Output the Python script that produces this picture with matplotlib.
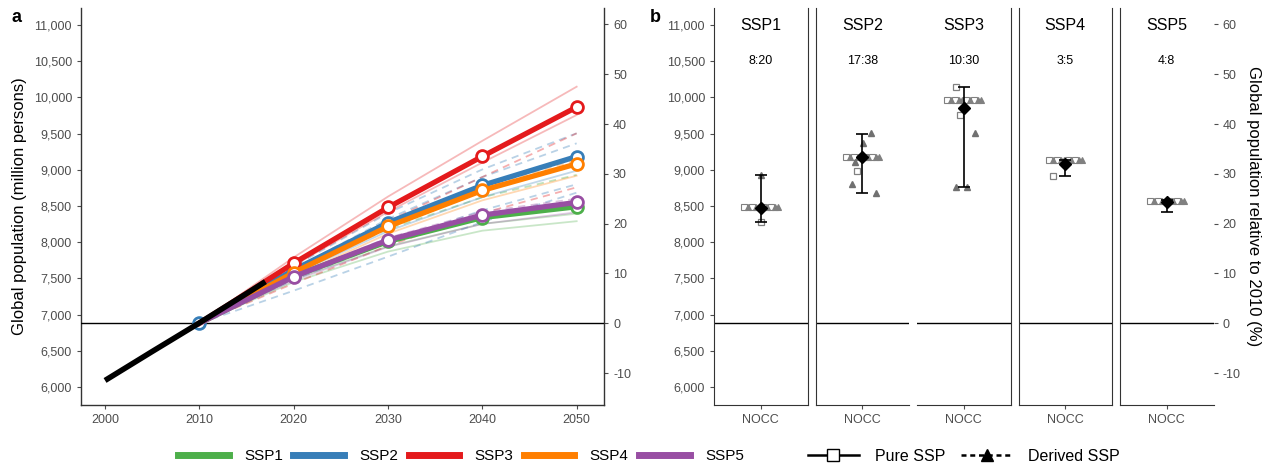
import matplotlib
matplotlib.use("Agg")
import matplotlib.pyplot as plt
from matplotlib.lines import Line2D
import numpy as np

plt.rcParams['font.family'] = ['Liberation Sans', 'DejaVu Sans']
plt.rcParams['axes.unicode_minus'] = False

# ---------------- data ----------------
ssp_names = ["SSP1", "SSP2", "SSP3", "SSP4", "SSP5"]
ssp_colors = ["#4DAF4A", "#377EB8", "#E41A1C", "#FF7F00", "#984EA3"]
base_2010 = 6880

years = [2010, 2020, 2030, 2040, 2050]
ssp1_main = [6880, 7530, 8010, 8340, 8490]
ssp2_main = [6880, 7617, 8270, 8785, 9183]
ssp3_main = [6880, 7710, 8480, 9185, 9866]
ssp4_main = [6880, 7580, 8217, 8715, 9082]
ssp5_main = [6880, 7524, 8029, 8374, 8550]

hist_years = [2000, 2005, 2010, 2015, 2017]
hist_pop = [6090, 6490, 6885, 7290, 7455]

# individual model trajectories
ssp1_pure = [[6880, 7450, 7870, 8159, 8290], [6880, 7492, 7943, 8253, 8394]]
ssp1_derived = [[6880, 7600, 8180, 8620, 8930]]
ssp2_pure = [[6880, 7555, 8153, 8623, 8988]]
ssp2_derived = [[6880, 7667, 8402, 9005, 9504], [6880, 7626, 8322, 8900, 9366],
                [6880, 7480, 8000, 8440, 8800], [6880, 7330, 7800, 8280, 8684]]
ssp3_pure = [[6880, 7790, 8630, 9400, 10148], [6880, 7680, 8420, 9100, 9757]]
ssp3_derived = [[6880, 7610, 8290, 8900, 9504], [6880, 7430, 7950, 8400, 8758]]
ssp4_pure = [[6880, 7528, 8117, 8578, 8918]]
ssp4_derived = [[6880, 7597, 8249, 8758, 9135]]
ssp5_pure = [[6880, 7472, 7935, 8252, 8413]]
ssp5_derived = [[6880, 7540, 8060, 8420, 8600]]

# panel b (2050, NOCC)
b_counts = ["8:20", "17:38", "10:30", "3:5", "4:8"]
b_mean = [8477, 9173, 9850, 9080, 8551]
b_low = [8283, 8675, 8767, 8914, 8413]
b_high = [8928, 9490, 10148, 9135, 8583]
b_cluster = [8480, 9180, 9964, 9135, 8569]
# outlying models: x offset, value, kind
b_out_ssp1 = [(0.0, 8930, "derived"), (0.0, 8280, "pure")]
b_out_ssp2 = [(0.11, 9504, "derived"), (0.01, 9366, "derived"), (-0.09, 9110, "derived"),
              (-0.13, 8800, "derived"), (0.18, 8684, "derived"), (-0.07, 8988, "pure")]
b_out_ssp3 = [(-0.1, 10142, "pure"), (-0.05, 9757, "pure"), (0.15, 9504, "derived"),
              (-0.1, 8758, "derived"), (0.04, 8758, "derived")]
b_out_ssp4 = [(-0.16, 8918, "pure")]
b_out_ssp5 = []
cluster_offsets = [-0.21, -0.16, -0.11, -0.06, -0.02, 0.03, 0.08, 0.13, 0.18, 0.22]

# ---------------- figure ----------------
W, H = 1270, 469
fig = plt.figure(figsize=(W / 100, H / 100), dpi=100)

def fx(px):
    return px / W

def fy(py):
    return 1 - py / H

YLIM = (5751, 11235)
TICKC = "#4D4D4D"
SPC = "#333333"
TLS = 9
to_pct = lambda p: (np.asarray(p) / base_2010 - 1) * 100
to_pop = lambda q: (np.asarray(q) / 100 + 1) * base_2010
yticks = [6000, 6500, 7000, 7500, 8000, 8500, 9000, 9500, 10000, 10500, 11000]
ytl = [f"{v:,}" for v in yticks]
pct_ticks = [-10, 0, 10, 20, 30, 40, 50, 60]

# ---- panel a ----
ax = fig.add_axes([fx(81), fy(405), fx(604 - 81), (405 - 8) / H])
ax.set_xlim(1997.45, 2052.9)
ax.set_ylim(*YLIM)

pure_sets = [ssp1_pure, ssp2_pure, ssp3_pure, ssp4_pure, ssp5_pure]
der_sets = [ssp1_derived, ssp2_derived, ssp3_derived, ssp4_derived, ssp5_derived]
for i in range(5):
    for v in pure_sets[i]:
        ax.plot(years, v, color=ssp_colors[i], lw=1.3, alpha=0.3, zorder=2)
    for v in der_sets[i]:
        ax.plot(years, v, color=ssp_colors[i], lw=1.3, alpha=0.35, ls=(0, (4, 3)), zorder=2)

ax.axhline(base_2010, color="black", lw=1.0, zorder=3)

mains = [ssp1_main, ssp2_main, ssp3_main, ssp4_main, ssp5_main]
for i in [0, 3, 4, 1, 2]:
    me = slice(0, None) if i == 1 else slice(1, None)
    ax.plot(years, mains[i], color=ssp_colors[i], lw=3.8, marker='o', ms=8.5,
            mfc='white', mec=ssp_colors[i], mew=2.0, markevery=me, zorder=4 + i * 0.1)

ax.plot(hist_years, hist_pop, color="black", lw=4, solid_capstyle='butt', zorder=6)

ax.set_yticks(yticks)
ax.set_yticklabels(ytl)
ax.set_xticks([2000, 2010, 2020, 2030, 2040, 2050])
ax.tick_params(colors=TICKC, labelsize=TLS, length=3, width=0.8)
for s in ["top", "right"]:
    ax.spines[s].set_visible(False)
for s in ["left", "bottom"]:
    ax.spines[s].set_color(SPC)
    ax.spines[s].set_linewidth(1.0)
ax.set_ylabel("Global population (million persons)", fontsize=12, labelpad=5)
sec = ax.secondary_yaxis('right', functions=(to_pct, to_pop))
sec.set_yticks(pct_ticks)
sec.tick_params(colors=TICKC, labelsize=TLS, length=3, width=0.8)
sec.spines['right'].set_color(SPC)
sec.spines['right'].set_linewidth(1.0)
fig.text(fx(12), fy(18), "a", fontsize=13, fontweight="bold", va="center")

# ---- panel b ----
lefts = [714, 815.5, 917, 1018.5, 1120]
fw = 93.5
outs = [b_out_ssp1, b_out_ssp2, b_out_ssp3, b_out_ssp4, b_out_ssp5]
side_spines = [("left", "right"), ("left",), ("right",), ("left", "right"), ("left",)]
cluster_kinds = ['s', '^', 's', '^', '^', 's', '^', 's', '^', '^']
for i in range(5):
    bx = fig.add_axes([fx(lefts[i]), fy(405), fx(fw), (405 - 8) / H])
    bx.set_xlim(0.4, 1.6)
    bx.set_ylim(*YLIM)
    bx.axhline(base_2010, color="black", lw=1.0, zorder=1)
    for k, off in enumerate(cluster_offsets):
        m = cluster_kinds[k]
        bx.plot(1 + off, b_cluster[i], marker=m, ms=4, color="#808080",
                mfc="#808080" if m == '^' else 'none', mew=0.8, ls='none', zorder=2)
    for off, v, kind in outs[i]:
        if kind == "pure":
            bx.plot(1 + off, v, marker='s', ms=5, mfc='none', mec="#808080", mew=0.9, ls='none', zorder=2)
        else:
            bx.plot(1 + off, v, marker='^', ms=5, color="#707070", ls='none', zorder=2)
    bx.errorbar([1], [b_mean[i]], yerr=[[b_mean[i] - b_low[i]], [b_high[i] - b_mean[i]]],
                fmt='none', ecolor="black", elinewidth=1.2, capsize=4, capthick=1.2, zorder=3)
    bx.plot(1, b_mean[i], marker='D', ms=6.5, color="black", ls='none', zorder=4)
    bx.text(1, 11000, ssp_names[i], ha="center", va="center", fontsize=11.5)
    bx.text(1, 10500, b_counts[i], ha="center", va="center", fontsize=9)
    bx.set_xticks([1])
    bx.set_xticklabels(["NOCC"])
    bx.tick_params(colors=TICKC, labelsize=TLS, length=3, width=0.8)
    bx.spines["top"].set_visible(False)
    for s in ["left", "right"]:
        bx.spines[s].set_visible(s in side_spines[i])
        bx.spines[s].set_color(SPC)
    bx.spines["bottom"].set_color(SPC)
    if i == 0:
        bx.set_yticks(yticks)
        bx.set_yticklabels(ytl)
        fig.text(fx(650), fy(18), "b", fontsize=13, fontweight="bold", va="center")
    else:
        bx.set_yticks([])
    if i == 4:
        s2 = bx.secondary_yaxis('right', functions=(to_pct, to_pop))
        s2.set_yticks(pct_ticks)
        s2.tick_params(colors=TICKC, labelsize=TLS, length=3, width=0.8)
        s2.spines['right'].set_visible(False)
        s2.set_ylabel("Global population relative to 2010 (%)", fontsize=12,
                      rotation=270, labelpad=15)

# ---- legends ----
handles = [Line2D([], [], color=c, lw=5) for c in ssp_colors]
fig.legend(handles, ssp_names, loc="center", bbox_to_anchor=(fx(461), fy(456)), ncol=5,
           frameon=False, fontsize=11, handlelength=3.3, columnspacing=0.7, handletextpad=1.0)
h2 = [Line2D([], [], color="black", lw=1.8, marker='s', ms=9, mfc='white', mec='black'),
      Line2D([], [], color="black", lw=1.8, ls=(0, (2, 1.5)), marker='^', ms=9)]
fig.legend(h2, ["Pure SSP", "Derived SSP"], loc="center", bbox_to_anchor=(fx(964), fy(456)),
           ncol=2, frameon=False, fontsize=11.5, handlelength=3.2, columnspacing=1.0,
           handletextpad=1.0)

fig.savefig("out.png", dpi=100)
